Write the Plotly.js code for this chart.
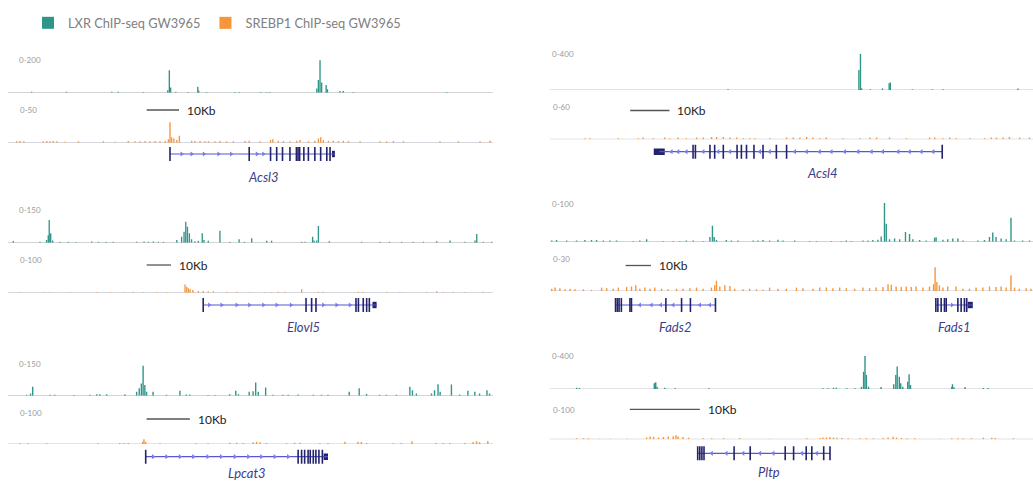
<!DOCTYPE html>
<html><head><meta charset="utf-8">
<script src="https://cdn.plot.ly/plotly-3.0.1.min.js"></script>
<style>html,body{margin:0;padding:0;background:#fff}#chart{width:1033px;height:481px}</style>
</head><body><div id="chart"></div>
<script>
// ===================== DATA (positions in kb from left edge of each browser window) =====================
const seriesNames = ['LXR ChIP-seq GW3965', 'SREBP1 ChIP-seq GW3965'];
const geneNames = ['Acsl3', 'Elovl5', 'Lpcat3', 'Acsl4', 'Fads2', 'Fads1', 'Pltp'];
const lxrScaleLabels = ['0-200', '0-150', '0-150', '0-400', '0-100', '0-400'];
const srebpScaleLabels = ['0-50', '0-100', '0-100', '0-60', '0-30', '0-100'];
const scaleBarLabel = '10Kb';
const scaleBarKb = 10;

// ---- Acsl3 ----
const acsl3LxrPos = [7.3,18.1,32.1,34.1,41.9,49.4,49.9,50.3,51.9,55.6,58.7,59.0,61.4,70.2,71.5,78.2,80.0,81.0,95.5,96.0,96.5,97.0,98.4,98.8,102.7,103.7,106.8,135.7];
const acsl3LxrVal = [5,5,5,5,4,15,132,30,5,4,35,12,4,4,4,4,4,4,25,74,190,60,45,20,10,10,4,4];
const acsl3SrebpPos = [2.7,3.7,4.9,10.9,12.0,13.0,14.0,15.1,17.6,21.8,29.5,33.1,37.2,39.3,40.8,42.4,43.9,45.5,47.0,48.6,49.6,50.1,50.6,51.3,52.2,53.0,56.8,57.8,59.4,60.9,62.0,64.0,65.6,67.6,69.7,73.3,74.6,77.9,81.2,81.9,83.6,85.2,87.2,89.3,90.3,92.9,94.9,96.0,96.7,97.5,99.1,100.6,102.2,103.7,105.3,108.9,115.1,117.1,119.2,122.3,133.6,139.3,146.0,149.1];
const acsl3SrebpVal = [2,2.5,2,2,2.5,2,2.5,2,1.5,2,2,1.5,2.5,2,2,2.5,2,2.5,2,3,5,30,8,6,4,10,3,2.5,2.5,2,2,2,2.5,2,2,2.5,3,2,4,5,3,2.5,2,3,4,2,3,6,8,4,3,3,2.5,3,2.5,2,2,2,2.5,2,2,2,2,3];
const acsl3Span = [50.1, 101.1];
const acsl3Exons = [50.1,74.6,81.2,83.1,84.9,87.2,89.2,89.7,90.2,91.5,92.9,94.9,96.7,98.6,99.6];
const acsl3BlockStart = [100.2];
const acsl3BlockEnd = [101.1];
const acsl3Arrows = [53.7,56.8,60.6,65.1,69.0,77.0,79.0];

// ---- Elovl5 ----
const elovl5LxrPos = [2.2,13.2,15.9,16.6,17.0,17.6,18.4,21.4,24.9,28.0,34.5,37.3,40.4,43.4,53.1,56.1,57.9,59.9,62.0,64.1,69.6,71.6,72.6,73.3,74.0,74.8,75.7,77.1,78.5,80.1,80.8,82.6,87.4,91.5,95.3,97.5,100.5,106.7,108.7,121.1,122.5,125.6,126.2,127.3,128.0,132.5,145.8,153.4,157.3,162.3,167.1,171.3,176.8,182.3,188.5,192.6,193.3,196.0,199.5];
const elovl5LxrVal = [7,4,12,33,99,41,10,4,4,3,5,4,4,4,4,5,4,5,4,4,12,26,48,92,70,41,15,6,8,41,12,8,52,4,15,4,19,8,8,4,4,26,10,10,73,6,4,4,4,4,4,4,6,10,4,10,38,4,4];
const elovl5SrebpPos = [4.9,14.6,17.3,25.6,36.6,42.1,47.6,51.7,55.8,61.3,65.4,73.0,73.7,74.4,75.1,76.2,78.5,80.5,82.6,84.7,90.2,94.3,99.8,106.0,108.7,111.5,114.2,121.1,128.0,130.0,144.5,146.5,156.2,161.6,172.6,176.8,179.5,183.6,188.5,196.0];
const elovl5SrebpVal = [2,2,2,2,2,2,2,2.5,2,2,2,24,17,13,10,8,5,5,4,4,2.5,3,2,2,2,2.5,2.5,10,3,3,3,3,2,2,2,4,2,2,2,3];
const elovl5Span = [80.5, 152.0];
const elovl5Exons = [80.5,122.9,125.2,127.0,143.5,144.5,146.5,147.9,149.0];
const elovl5BlockStart = [150.3];
const elovl5BlockEnd = [152.0];
const elovl5Arrows = [83.0,88.1,94.3,99.5,105.3,110.8,116.7,130.0,135.5,141.0];

// ---- Lpcat3 ----
const lpcat3LxrPos = [4.3,5.2,5.7,9.7,10.8,15.2,18.9,20.5,21.2,22.8,27.0,29.7,30.3,30.8,31.2,31.6,32.0,33.5,36.6,39.7,41.2,42.0,46.2,47.8,51.2,52.6,53.2,55.7,56.6,57.2,57.8,59.5,61.2,63.5,64.7,67.0,70.5,72.4,73.9,78.8,81.1,82.8,85.8,87.4,89.7,92.8,93.4,94.3,97.8,98.5,99.3,99.8,102.4,104.3,106.2,107.8,108.9,110.6,111.2];
const lpcat3LxrVal = [4,10,40,4,4,3,4,6,6,6,6,18,33,55,135,48,18,18,4,22,5,5,3,3,6,22,6,18,20,60,18,37,4,4,4,5,4,4,4,18,33,8,4,4,4,40,25,10,10,25,52,18,51,5,22,18,10,24,10];
const lpcat3SrebpPos = [2.8,4.7,8.9,20.8,25.8,26.8,27.8,31.1,31.4,31.8,35.1,43.5,46.2,51.2,52.8,54.3,56.6,57.4,58.2,59.7,64.3,66.2,67.4,72.0,73.9,77.8,80.8,81.6,82.8,88.9,90.8,93.3,98.9,100.5,102.0,105.5,107.4,108.2,108.9,110.8];
const lpcat3SrebpVal = [2,2,2,2,3,3,3,7,14,7,2,2,2,4,4,3,5,7,5,3,2,4,4,2,3,7,7,6,3,2,3,8,3,3,3,3,6,8,5,9];
const lpcat3Span = [31.8, 73.9];
const lpcat3Exons = [31.8,67.0,67.8,68.5,69.3,69.8,70.5,71.1,71.8,72.6];
const lpcat3BlockStart = [72.9];
const lpcat3BlockEnd = [73.9];
const lpcat3Arrows = [33.5,36.6,39.7,42.8,46.1,49.2,52.4,55.5,58.5,61.6,64.7];

// ---- Acsl4 ----
const acsl4LxrPos = [45.3,78.6,79.0,79.3,81.5,84.6,86.3,86.6,92.2,97.3,100.0,119.1];
const acsl4LxrVal = [8,210,380,17,8,17,70,80,7,7,7,17];
const acsl4SrebpPos = [8.9,10.2,17.4,22.5,23.7,26.3,29.2,30.5,32.6,34.7,37.3,39.0,41.1,42.4,44.1,45.8,47.5,49.2,50.8,52.1,55.9,60.2,61.9,63.6,65.3,66.9,68.6,70.3,74.6,78.8,81.4,83.1,86.4,90.7,96.6,97.9,100.0,101.7,103.4,106.8,110.6,112.3,113.6,115.3,116.9,119.5,122.0];
const acsl4SrebpVal = [2,2,2,2,3,2,3,2,3,2,3,3,4,4,4,3,3,2,2,2,2,3,3,3,4,3,2,3,2,2,3,3,3,2,3,3,2,3,2,2,2,3,3,3,4,3,3];
const acsl4Span = [27.8, 99.8];
const acsl4Exons = [36.4,37.0,40.7,41.9,44.1,47.6,48.7,50.0,51.9,54.2,57.6,60.2,99.8];
const acsl4BlockStart = [26.4];
const acsl4BlockEnd = [29.2];
const acsl4Arrows = [30.9,32.6,34.7,39.0,42.8,45.8,53.4,55.9,62.3,65.3,68.6,71.6,75.0,78.4,81.8,84.7,88.6,91.5,94.5,97.5];

// ---- Fads2 / Fads1 ----
const fadsLxrPos = [0.7,2.6,6.6,10.5,13.8,16.4,18.4,21.1,23.7,26.3,32.9,35.5,38.2,44.7,48.7,51.3,53.9,56.6,60.5,63.2,64.2,64.9,65.8,69.7,71.7,74.3,80.3,82.2,84.2,86.8,90.1,92.1,96.7,102.6,105.3,111.2,115.1,117.1,119.1,123.7,125.7,127.6,129.6,130.9,132.2,132.9,134.2,136.2,138.2,140.5,142.1,143.4,146.1,148.7,152.0,152.6,155.3,157.2,159.2,161.2,163.2,169.1,171.7,173.7,175.0,176.3,178.3,180.3,182.2,183.6,186.8,189.5];
const fadsLxrVal = [3,4,3,3,4,4,4,3,3,3,2,3,6,2,2,2,3,3,2,12,40,12,4,4,3,3,3,3,4,3,5,3,3,2,2,2,2,3,2,3,3,4,5,13,97,45,6,8,6,24,19,6,4,3,10,11,5,6,8,8,3,3,4,12,23,12,8,6,60,3,3,3];
const fadsSrebpPos = [0.7,2.0,3.9,5.9,7.9,9.9,13.2,16.4,20.4,22.4,25.0,27.0,30.3,32.2,33.9,35.5,37.5,39.5,41.4,44.1,46.7,50.0,52.6,55.3,57.9,60.5,63.8,65.1,65.8,67.1,69.1,71.1,73.0,76.3,78.9,81.6,84.2,86.8,90.1,93.4,97.4,100.0,103.9,106.6,109.2,111.8,114.5,117.1,120.4,123.7,126.3,128.9,131.6,133.6,134.9,136.8,138.8,140.8,142.8,144.7,147.4,150.0,151.6,152.2,152.9,153.9,155.3,157.2,160.5,163.2,165.8,168.4,171.1,173.7,176.3,178.3,180.3,182.2,183.6,185.5,188.2,190.1];
const fadsSrebpVal = [2,3,2.5,1.5,2,1.5,1.5,1,3,2.5,2,3,3.5,4,5,2,3,2,3,2,1.5,2,2,2.5,3,2,3,5,9,4,5,4.5,2,1.5,2,1.5,1,3,2,2,3,2.5,2,3,3,2.5,3,2.5,2,3,2.5,3,3.5,6,5.5,4,3.5,4,3.5,4,3,4,6,21,8,5,3,4,4,2,2,3,3,4,3.5,4,3,14,3,2,2.5,2];
const fads2Span = [25.7, 65.4];
const fads2Exons = [25.9,26.6,27.3,28.2,31.6,32.2,45.8,52.0,55.5,65.4];
const fads2BlockStart = [];
const fads2BlockEnd = [];
const fads2Arrows = [35.5,40.1,43.8,48.7,59.2,63.2];
const fads1Span = [152.4, 167.1];
const fads1Exons = [152.5,153.3,154.6,155.9,156.6,161.2,162.5,163.8,164.7];
const fads1BlockStart = [165.1];
const fads1BlockEnd = [167.1];
const fads1Arrows = [158.9];

// ---- Pltp ----
const pltpLxrPos = [3.8,4.2,14.9,15.1,15.3,16.4,17.9,22.7,39.0,39.7,40.5,40.9,42.4,43.6,44.5,44.8,45.0,45.2,45.5,47.3,49.1,49.4,49.6,49.9,50.1,50.4,51.1,51.3,51.5,57.4,57.5,57.7,59.3,61.9,62.6];
const pltpLxrVal = [15,12,65,77,27,15,8,8,8,8,15,15,8,8,27,200,380,161,27,23,54,161,258,142,65,27,85,169,45,27,54,19,23,12,12];
const pltpSrebpPos = [3.8,4.8,5.5,7.1,8.6,11.0,13.8,14.3,14.8,15.5,16.2,16.9,17.6,18.0,18.3,19.0,19.8,21.9,23.1,24.8,27.1,31.4,36.7,38.6,39.0,39.5,40.0,40.5,41.0,41.7,42.6,44.3,45.2,46.2,47.6,48.3,49.0,49.5,50.2,51.0,52.1,55.7,57.4,58.3,59.0,60.2,61.9,63.1,63.6,66.2];
const pltpSrebpVal = [3,3,3,2,2,2,6,9,8,6,7,9,10,13,9,7,5,3,3,3,4,2,3,4,6,6,7,6,5,4,3,3,3,3,4,6,8,6,4,3,3,2,3,3,3,3,5,5,4,3];
const pltpSpan = [21.1, 40.0];
const pltpExons = [21.1,21.4,21.7,22.0,26.3,28.6,33.6,34.8,36.6,37.4,39.1,40.0];
const pltpBlockStart = [];
const pltpBlockEnd = [];
const pltpArrows = [23.1,25.2,27.6,30.0,31.9,36.0,38.1];

// ===================== LAYOUT / STYLE =====================
const W = 1033, H = 481;
const fx = px => px / W;
const fy = py => 1 - py / H;
const TEAL = '#2f9589', ORANGE = '#f5963a';
const NAVY = '#23236c', INTRON = '#5656d0', ARROW = '#7a7aee';

const panels = [
  {col:0, xr:[0,150], lxrMax:200, srebpMax:50, lxrB:92.7, lxrT:58.5, sB:142.7, sT:108.5, geneY:154, nameY:177, scaleX:42.9, scaleY:110, barW:0.42,
   lx:acsl3LxrPos, ly:acsl3LxrVal, sx:acsl3SrebpPos, sy:acsl3SrebpVal, lxrLab:lxrScaleLabels[0], sLab:srebpScaleLabels[0],
   genes:[{name:geneNames[0], span:acsl3Span, exons:acsl3Exons, bs:acsl3BlockStart, be:acsl3BlockEnd, arrows:acsl3Arrows, strand:1, nameX:78.9}]},
  {col:0, xr:[0,200], lxrMax:150, srebpMax:100, lxrB:242.7, lxrT:208.4, sB:292.7, sT:258.4, geneY:305, nameY:326.7, scaleX:57.2, scaleY:265, barW:0.55,
   lx:elovl5LxrPos, ly:elovl5LxrVal, sx:elovl5SrebpPos, sy:elovl5SrebpVal, lxrLab:lxrScaleLabels[1], sLab:srebpScaleLabels[1],
   genes:[{name:geneNames[1], span:elovl5Span, exons:elovl5Exons, bs:elovl5BlockStart, be:elovl5BlockEnd, arrows:elovl5Arrows, strand:1, nameX:121.8}]},
  {col:0, xr:[0,112], lxrMax:150, srebpMax:100, lxrB:395.7, lxrT:362.4, sB:444, sT:410.7, geneY:456.7, nameY:472.5, scaleX:32.0, scaleY:419, barW:0.32,
   lx:lpcat3LxrPos, ly:lpcat3LxrVal, sx:lpcat3SrebpPos, sy:lpcat3SrebpVal, lxrLab:lxrScaleLabels[2], sLab:srebpScaleLabels[2],
   genes:[{name:geneNames[2], span:lpcat3Span, exons:lpcat3Exons, bs:lpcat3BlockStart, be:lpcat3BlockEnd, arrows:lpcat3Arrows, strand:1, nameX:55.1}]},
  {col:1, xr:[0,122.9], lxrMax:400, srebpMax:60, lxrB:90, lxrT:52, sB:139.3, sT:105.3, geneY:151.7, nameY:173, scaleX:20.4, scaleY:110.5, barW:0.35,
   lx:acsl4LxrPos, ly:acsl4LxrVal, sx:acsl4SrebpPos, sy:acsl4SrebpVal, lxrLab:lxrScaleLabels[3], sLab:srebpScaleLabels[3],
   genes:[{name:geneNames[3], span:acsl4Span, exons:acsl4Exons, bs:acsl4BlockStart, be:acsl4BlockEnd, arrows:acsl4Arrows, strand:-1, nameX:69.4}]},
  {col:1, xr:[0,190.9], lxrMax:100, srebpMax:30, lxrB:241.7, lxrT:201.7, sB:291, sT:257, geneY:305, nameY:326.7, scaleX:29.9, scaleY:265.5, barW:0.55,
   lx:fadsLxrPos, ly:fadsLxrVal, sx:fadsSrebpPos, sy:fadsSrebpVal, lxrLab:lxrScaleLabels[4], sLab:srebpScaleLabels[4],
   genes:[{name:geneNames[4], span:fads2Span, exons:fads2Exons, bs:fads2BlockStart, be:fads2BlockEnd, arrows:fads2Arrows, strand:-1, nameX:49.4},
          {name:geneNames[5], span:fads1Span, exons:fads1Exons, bs:fads1BlockStart, be:fads1BlockEnd, arrows:fads1Arrows, strand:1, nameX:159.7}]},
  {col:1, xr:[0,69], lxrMax:400, srebpMax:100, lxrB:389, lxrT:354.3, sB:439.3, sT:407.6, geneY:453.3, nameY:471.5, scaleX:11.4, scaleY:409.3, barW:0.2,
   lx:pltpLxrPos, ly:pltpLxrVal, sx:pltpSrebpPos, sy:pltpSrebpVal, lxrLab:lxrScaleLabels[5], sLab:srebpScaleLabels[5],
   genes:[{name:geneNames[6], span:pltpSpan, exons:pltpExons, bs:pltpBlockStart, be:pltpBlockEnd, arrows:pltpArrows, strand:-1, nameX:31.3}]}
];

const colX = [[8, 493], [550, 1033]];
const labX = [17, 550];

const traces = [];
const layout = {
  width: W, height: H, margin: {l:0, r:0, t:0, b:0},
  paper_bgcolor: '#ffffff', plot_bgcolor: 'rgba(0,0,0,0)',
  font: {family: 'Lato, "Open Sans", sans-serif', color: '#444'},
  barmode: 'overlay', showlegend: true, hovermode: false,
  legend: {orientation: 'h', x: 28/W, xanchor: 'left', y: 1 - 8/H, yanchor: 'top',
           font: {family: 'Lato, sans-serif', size: 12.8, color: '#808080'}, bgcolor: 'rgba(0,0,0,0)', itemwidth: 30},
  shapes: [], annotations: []
};

panels.forEach((p, i) => {
  const k = i + 1;
  const xa = k === 1 ? 'x' : 'x' + k;
  const n = 3 * i + 1;
  const yl = n === 1 ? 'y' : 'y' + n, ys = 'y' + (n + 1), yg = 'y' + (n + 2);
  const xname = k === 1 ? 'xaxis' : 'xaxis' + k;
  const ynm = s => 'yaxis' + s.slice(1);
  const cx = colX[p.col];
  layout[xname] = {domain: [fx(cx[0]), fx(cx[1])], range: p.xr, visible: false, anchor: yl, fixedrange: true};
  layout[ynm(yl)] = {domain: [fy(p.lxrB), fy(p.lxrT)], range: [0, p.lxrMax], visible: false, anchor: xa, fixedrange: true};
  layout[ynm(ys)] = {domain: [fy(p.sB), fy(p.sT)], range: [0, p.srebpMax], visible: false, anchor: xa, fixedrange: true};
  layout[ynm(yg)] = {domain: [fy(p.geneY + 8), fy(p.geneY - 8)], range: [-1, 1], visible: false, anchor: xa, fixedrange: true};

  // ChIP-seq tracks
  traces.push({type: 'bar', x: p.lx, y: p.ly, width: p.barW, xaxis: xa, yaxis: yl,
    marker: {color: TEAL, line: {width: 0}}, name: seriesNames[0], legendgroup: 'lxr', showlegend: i === 0});
  traces.push({type: 'bar', x: p.sx, y: p.sy, width: p.barW, xaxis: xa, yaxis: ys,
    marker: {color: ORANGE, line: {width: 0}}, name: seriesNames[1], legendgroup: 'srebp', showlegend: i === 0});

  // baselines
  layout.shapes.push({type: 'line', xref: xa + ' domain', x0: 0, x1: 1, yref: yl, y0: 0, y1: 0, line: {color: '#c6c6c6', width: 1.2}, layer: 'below'});
  layout.shapes.push({type: 'line', xref: xa + ' domain', x0: 0, x1: 1, yref: ys, y0: 0, y1: 0, line: {color: '#c8c8d4', width: 1.2}, layer: 'below'});

  // scale bar
  layout.shapes.push({type: 'line', xref: xa, x0: p.scaleX, x1: p.scaleX + scaleBarKb, yref: 'paper', y0: fy(p.scaleY), y1: fy(p.scaleY), line: {color: '#555', width: 1.3}});
  layout.annotations.push({xref: xa, x: p.scaleX + scaleBarKb, xanchor: 'left', xshift: 6, yref: 'paper', y: fy(p.scaleY), yanchor: 'middle',
    text: scaleBarLabel, showarrow: false, font: {family: 'Lato, sans-serif', size: 12, color: '#222'}});

  // track range labels
  layout.annotations.push({xref: 'paper', x: fx(labX[p.col]), xanchor: 'left', yref: 'paper', y: fy(p.lxrT + 2), yanchor: 'middle',
    text: p.lxrLab, showarrow: false, font: {size: 8, color: '#9a9a9a'}});
  layout.annotations.push({xref: 'paper', x: fx(labX[p.col] + 1), xanchor: 'left', yref: 'paper', y: fy(p.sT + 2), yanchor: 'middle',
    text: p.sLab, showarrow: false, font: {size: 8, color: '#9a9a9a'}});

  // gene models
  p.genes.forEach(g => {
    traces.push({type: 'scatter', mode: 'lines', x: g.span, y: g.span.map(() => 0), xaxis: xa, yaxis: yg,
      line: {color: INTRON, width: 1.2}, showlegend: false, hoverinfo: 'skip'});
    traces.push({type: 'scatter', mode: 'markers', x: g.arrows, y: g.arrows.map(() => 0), xaxis: xa, yaxis: yg,
      marker: {symbol: g.strand > 0 ? 'triangle-right' : 'triangle-left', size: 4.5, color: ARROW}, showlegend: false, hoverinfo: 'skip'});
    traces.push({type: 'scatter', mode: 'markers', x: g.exons, y: g.exons.map(() => 0), xaxis: xa, yaxis: yg,
      marker: {symbol: 'line-ns', size: 10, color: NAVY, line: {color: NAVY, width: 1.6}}, showlegend: false, hoverinfo: 'skip'});
    if (g.bs.length) {
      traces.push({type: 'bar', x: g.bs.map((s, j) => (s + g.be[j]) / 2), width: g.bs.map((s, j) => g.be[j] - s),
        y: g.bs.map(() => 0.8), base: -0.4, xaxis: xa, yaxis: yg, marker: {color: NAVY, line: {width: 0}}, showlegend: false, hoverinfo: 'skip'});
    }
    layout.annotations.push({xref: xa, x: g.nameX, xanchor: 'center', yref: 'paper', y: fy(p.nameY), yanchor: 'middle',
      text: '<i>' + g.name + '</i>', showarrow: false, font: {family: 'Lato, sans-serif', size: 13, color: '#3d3d8a', style: 'italic'}});
  });
});

Plotly.newPlot('chart', traces, layout, {staticPlot: true, displayModeBar: false});
</script>
</body></html>
